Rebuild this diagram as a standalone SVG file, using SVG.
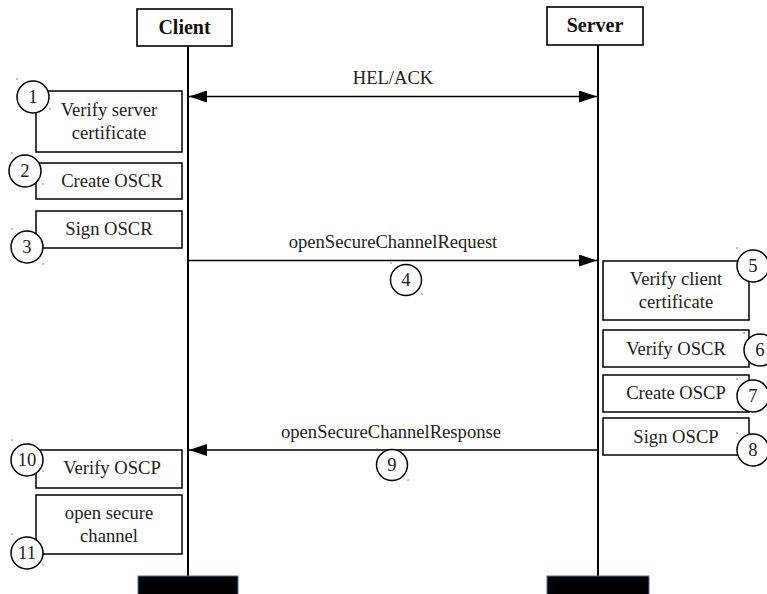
<svg xmlns="http://www.w3.org/2000/svg" width="767" height="594" viewBox="0 0 767 594">
  <style>
    .box { fill: #fff; stroke: #000; stroke-width: 1.5; }
    .hdr { fill: #fff; stroke: #000; stroke-width: 1.6; }
    .life { stroke: #000; stroke-width: 2; }
    .msg { stroke: #000; stroke-width: 1.6; fill: none; }
    .num { fill: #fff; stroke: #000; stroke-width: 1.5; }
    .dot { fill: #555; }
    .foot { fill: #000; stroke: #4a6fa5; stroke-width: 1; }
  </style>
  <defs>
    <marker id="head" viewBox="0 0 18 12" refX="18" refY="6" markerWidth="18" markerHeight="12" markerUnits="userSpaceOnUse" orient="auto-start-reverse">
      <path d="M0,0 L18,6 L0,12 Z" fill="#000"/>
    </marker>
  </defs>

  <rect width="767" height="594" fill="#fff"/>

  <g font-family="'Liberation Serif', 'DejaVu Serif', serif" font-size="18.6" fill="#222" text-anchor="middle">

  <!-- lifelines and footers -->
  <g id="lifelines">
    <line class="life" x1="188" y1="46" x2="188" y2="577"/>
    <line class="life" x1="598" y1="45" x2="598" y2="577"/>
    <rect class="foot" x="138" y="576" width="100" height="20"/>
    <rect class="foot" x="547" y="576" width="102" height="20"/>
  </g>

  <g id="client">
    <rect class="hdr" x="137" y="9" width="95" height="37"/>
    <text x="184.5" y="33.5" font-weight="bold" font-size="20" fill="#111">Client</text>
  </g>
  <g id="server">
    <rect class="hdr" x="547" y="7" width="96" height="38"/>
    <text x="595" y="32" font-weight="bold" font-size="20" fill="#111">Server</text>
  </g>

  <!-- messages -->
  <g id="connectors">
    <line class="msg" x1="189" y1="96.5" x2="597" y2="96.5" marker-start="url(#head)" marker-end="url(#head)"/>
    <text x="393" y="84">HEL/ACK</text>
    <line class="msg" x1="189" y1="260.5" x2="597" y2="260.5" marker-end="url(#head)"/>
    <text x="393" y="248">openSecureChannelRequest</text>
    <line class="msg" x1="597" y1="450" x2="189" y2="450" marker-end="url(#head)"/>
    <text x="391" y="438">openSecureChannelResponse</text>
  </g>

  <!-- client side steps -->
  <g id="step1">
    <rect class="box" x="36" y="91" width="146" height="61"/>
    <text x="109" y="116">Verify server</text>
    <text x="109" y="139">certificate</text>
    <circle class="num" cx="33" cy="97" r="16"/>
    <text x="33" y="103">1</text>
    <circle class="dot" cx="17" cy="79" r="0.7"/><circle class="dot" cx="50" cy="109" r="0.7"/>
  </g>
  <g id="step2">
    <rect class="box" x="36" y="163" width="146" height="36"/>
    <text x="112" y="187">Create OSCR</text>
    <circle class="num" cx="25" cy="171" r="16"/>
    <text x="25" y="177">2</text>
    <circle class="dot" cx="12" cy="153" r="0.7"/><circle class="dot" cx="43" cy="184" r="0.7"/>
  </g>
  <g id="step3">
    <rect class="box" x="36" y="211" width="146" height="37"/>
    <text x="109" y="235">Sign OSCR</text>
    <circle class="num" cx="27" cy="247" r="16"/>
    <text x="27" y="253">3</text>
    <circle class="dot" cx="12" cy="229" r="0.7"/><circle class="dot" cx="43" cy="264" r="0.7"/>
  </g>
  <g id="step4">
    <circle class="num" cx="406" cy="280" r="15.5"/>
    <text x="406" y="286">4</text>
    <circle class="dot" cx="391" cy="263" r="0.7"/><circle class="dot" cx="422" cy="294" r="0.7"/>
  </g>

  <!-- server side steps -->
  <g id="step5">
    <rect class="box" x="603" y="261" width="146" height="59"/>
    <text x="676" y="285">Verify client</text>
    <text x="676" y="308">certificate</text>
    <circle class="num" cx="753" cy="266" r="16"/>
    <text x="753" y="272">5</text>
    <circle class="dot" cx="737" cy="248" r="0.7"/>
  </g>
  <g id="step6">
    <rect class="box" x="603" y="330" width="146" height="37"/>
    <text x="676" y="355">Verify OSCR</text>
    <circle class="num" cx="760" cy="350" r="16"/>
    <text x="760" y="356">6</text>
    <circle class="dot" cx="744" cy="333" r="0.7"/>
  </g>
  <g id="step7">
    <rect class="box" x="603" y="375" width="146" height="37"/>
    <text x="676" y="399">Create OSCP</text>
    <circle class="num" cx="753" cy="396" r="16"/>
    <text x="753" y="402">7</text>
    <circle class="dot" cx="737" cy="379" r="0.7"/>
  </g>
  <g id="step8">
    <rect class="box" x="603" y="418" width="146" height="37"/>
    <text x="676" y="443">Sign OSCP</text>
    <circle class="num" cx="753" cy="450" r="16"/>
    <text x="753" y="456">8</text>
    <circle class="dot" cx="737" cy="433" r="0.7"/>
  </g>
  <g id="step9">
    <circle class="num" cx="392" cy="465" r="15.5"/>
    <text x="392" y="471">9</text>
    <circle class="dot" cx="377" cy="449" r="0.7"/><circle class="dot" cx="408" cy="480" r="0.7"/>
  </g>

  <!-- client closing steps -->
  <g id="step10">
    <rect class="box" x="36" y="450" width="146" height="38"/>
    <text x="112" y="474">Verify OSCP</text>
    <circle class="num" cx="27" cy="460" r="16"/>
    <text x="27" y="466">10</text>
    <circle class="dot" cx="12" cy="440" r="0.7"/><circle class="dot" cx="43" cy="471" r="0.7"/>
  </g>
  <g id="step11">
    <rect class="box" x="36" y="495" width="146" height="59"/>
    <text x="109" y="519">open secure</text>
    <text x="109" y="542">channel</text>
    <circle class="num" cx="27" cy="553" r="16"/>
    <text x="27" y="559">11</text>
    <circle class="dot" cx="12" cy="534" r="0.7"/><circle class="dot" cx="43" cy="565" r="0.7"/>
  </g>

  </g>
</svg>
